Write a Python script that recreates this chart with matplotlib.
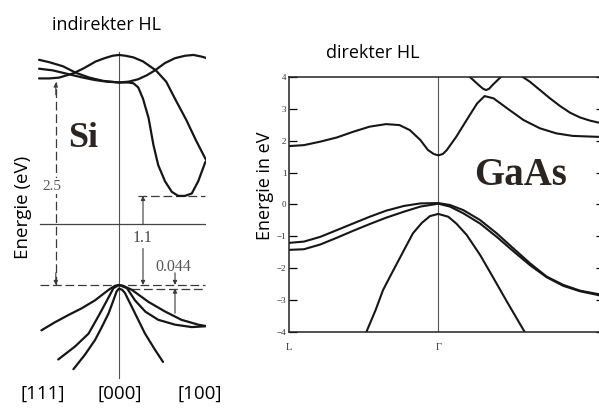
import matplotlib.pyplot as plt

W, H = 599, 408

plt.rcParams["font.family"] = ["Open Sans", "DejaVu Sans"]

# ---- Si (indirect gap): k in units of the Γ-to-zone-edge distance, E in eV
si_gap = 1.1
si_direct = 2.5
si_split = 0.044
si_ref_level = 0.75

si_cb_peak_k = [-1.0, -0.87, -0.75, -0.58, -0.45, -0.29, -0.18, -0.08, 0.0, 0.08, 0.18, 0.30, 0.46, 0.59, 0.71, 0.84, 0.96, 1.09]
si_cb_peak_e = [2.55, 2.55, 2.56, 2.61, 2.67, 2.76, 2.80, 2.83, 2.84, 2.83, 2.81, 2.76, 2.65, 2.51, 2.28, 2.04, 1.79, 1.54]

si_cb_valley_k = [-1.0, -0.83, -0.62, -0.45, -0.30, -0.15, 0.0, 0.12, 0.18, 0.24, 0.30, 0.37, 0.43, 0.49, 0.575, 0.66, 0.74, 0.825, 0.91, 0.99, 1.05, 1.08]
si_cb_valley_e = [2.67, 2.65, 2.60, 2.56, 2.53, 2.51, 2.50, 2.50, 2.49, 2.44, 2.30, 2.06, 1.73, 1.48, 1.28, 1.15, 1.10, 1.10, 1.13, 1.28, 1.44, 1.52]

si_cb_wave_k = [-1.0, -0.87, -0.70, -0.54, -0.37, -0.20, 0.0, 0.12, 0.24, 0.35, 0.45, 0.575, 0.70, 0.825, 0.93, 1.03, 1.10]
si_cb_wave_e = [2.78, 2.75, 2.70, 2.62, 2.56, 2.52, 2.50, 2.51, 2.54, 2.59, 2.65, 2.74, 2.80, 2.83, 2.84, 2.82, 2.80]

si_vb_heavy_k = [-0.97, -0.80, -0.63, -0.47, -0.30, -0.13, -0.05, 0.0, 0.05, 0.16, 0.37, 0.58, 0.78, 0.99, 1.10]
si_vb_heavy_e = [-0.56, -0.46, -0.37, -0.29, -0.19, -0.06, -0.01, 0.0, -0.01, -0.06, -0.21, -0.33, -0.43, -0.49, -0.51]

si_vb_light_k = [-0.76, -0.55, -0.38, -0.26, -0.15, -0.07, 0.0, 0.10, 0.20, 0.33, 0.49, 0.70, 0.91, 1.08]
si_vb_light_e = [-0.92, -0.76, -0.60, -0.39, -0.19, -0.04, 0.0, -0.04, -0.19, -0.33, -0.43, -0.49, -0.52, -0.51]

si_vb_so_k = [-0.57, -0.425, -0.30, -0.22, -0.13, -0.07, -0.03, 0.0, 0.04, 0.075, 0.14, 0.20, 0.325, 0.45, 0.55]
si_vb_so_e = [-1.04, -0.86, -0.68, -0.53, -0.35, -0.19, -0.08, -0.044, -0.06, -0.10, -0.23, -0.35, -0.60, -0.80, -0.95]

si_k_labels = ["[111]", "[000]", "[100]"]

# ---- GaAs (direct gap): L at k=-1, Γ at k=0
gaas_cb1_k = [-1.0, -0.90, -0.79, -0.68, -0.57, -0.46, -0.35, -0.26, -0.19, -0.12, -0.07, -0.03, 0.0, 0.03, 0.056, 0.12, 0.19, 0.26, 0.31, 0.37, 0.46, 0.57, 0.68, 0.79, 0.90, 1.07, 1.09]
gaas_cb1_e = [1.83, 1.86, 1.97, 2.10, 2.28, 2.44, 2.52, 2.49, 2.33, 2.02, 1.71, 1.58, 1.54, 1.58, 1.70, 2.12, 2.65, 3.17, 3.40, 3.33, 3.02, 2.65, 2.39, 2.23, 2.15, 2.12, 2.12]

gaas_cb2_k = [0.20, 0.27, 0.30, 0.32, 0.34, 0.37, 0.43]
gaas_cb2_e = [4.05, 3.75, 3.63, 3.59, 3.63, 3.78, 4.05]

gaas_cb3_k = [0.55, 0.614, 0.681, 0.748, 0.815, 0.882, 0.949, 1.016, 1.09]
gaas_cb3_e = [4.05, 3.85, 3.59, 3.33, 3.09, 2.88, 2.73, 2.63, 2.55]

gaas_vb1_k = [-1.0, -0.90, -0.79, -0.68, -0.57, -0.46, -0.35, -0.23, -0.12, 0.0, 0.078, 0.167, 0.279, 0.391, 0.502, 0.614, 0.726, 0.837, 0.949, 1.072, 1.09]
gaas_vb1_e = [-1.21, -1.17, -1.02, -0.81, -0.60, -0.39, -0.20, -0.05, 0.03, 0.04, -0.02, -0.18, -0.49, -0.91, -1.38, -1.85, -2.27, -2.53, -2.71, -2.82, -2.83]

gaas_vb2_k = [-1.0, -0.90, -0.79, -0.68, -0.57, -0.46, -0.35, -0.23, -0.12, 0.0, 0.078, 0.167, 0.279, 0.391, 0.502, 0.614, 0.726, 0.837, 0.949, 1.072, 1.09]
gaas_vb2_e = [-1.43, -1.41, -1.26, -1.05, -0.83, -0.62, -0.42, -0.23, -0.07, 0.02, -0.07, -0.28, -0.60, -1.02, -1.47, -1.91, -2.29, -2.56, -2.73, -2.85, -2.86]

gaas_so_k = [-0.49, -0.42, -0.37, -0.30, -0.23, -0.17, -0.11, -0.056, 0.0, 0.067, 0.12, 0.19, 0.28, 0.37, 0.46, 0.59]
gaas_so_e = [-4.1, -3.32, -2.69, -2.06, -1.44, -0.91, -0.58, -0.37, -0.30, -0.39, -0.60, -0.96, -1.59, -2.32, -3.06, -4.1]

gaas_yticks = [-4, -3, -2, -1, 0, 1, 2, 3, 4]
gaas_k_ticks = [-1.0, 0.0]
gaas_k_labels = ["L", "Γ"]

BAND = "#161616"
GUIDE = "#3a3a3a"


def px_axes(fig, x0, y0, x1, y1):
    return fig.add_axes([x0 / W, 1 - y1 / H, (x1 - x0) / W, (y1 - y0) / H])


def px_text(fig, x, y, s, **kw):
    fig.text(x / W, 1 - y / H, s, ha="center", va="center", **kw)


def arrow(ax, x, y_from, y_to, style="-|>", ls="-"):
    ax.annotate("", xy=(x, y_to), xytext=(x, y_from),
                arrowprops=dict(arrowstyle=style, lw=0.8, color=GUIDE, linestyle=ls,
                                mutation_scale=6, shrinkA=0, shrinkB=0))


fig = plt.figure(figsize=(W / 100, H / 100), dpi=100)

# ---- Si panel
ax = px_axes(fig, 38, 50, 206, 382)
ax.set_xlim(-1.0125, 1.0875)
ax.set_ylim(-1.198, 2.901)
ax.axis("off")

ax.plot([0, 0], [-1.15, 2.88], color="#555555", lw=0.8)
ax.plot([-0.99, 1.08], [si_ref_level, si_ref_level], color="#444444", lw=0.9)
dash = dict(color=GUIDE, lw=0.9, ls=(0, (7, 3)))
ax.plot([-0.99, 1.08], [0, 0], **dash)
ax.plot([0.24, 1.08], [si_gap, si_gap], **dash)
ax.plot([0.15, 1.09], [-si_split, -si_split], **dash)

for k, e in [(si_cb_peak_k, si_cb_peak_e), (si_cb_valley_k, si_cb_valley_e),
             (si_cb_wave_k, si_cb_wave_e), (si_vb_heavy_k, si_vb_heavy_e),
             (si_vb_light_k, si_vb_light_e), (si_vb_so_k, si_vb_so_e)]:
    ax.plot(k, e, color=BAND, lw=1.6, solid_joinstyle="round", solid_capstyle="round")

# 2.5 eV direct transition
ax.plot([-0.79, -0.79], [0, si_direct], **dash)
arrow(ax, -0.79, si_direct - 0.15, si_direct)
arrow(ax, -0.79, 0.15, 0)
ax.text(-0.84, 1.22, f"{si_direct}", family="Liberation Serif", fontsize=11, color="#555555",
        ha="center", va="center", bbox=dict(fc="white", ec="none", pad=1))

# 1.1 eV indirect gap
arrow(ax, 0.30, si_ref_level, si_gap)
arrow(ax, 0.30, 0.45, 0)
ax.text(0.29, 0.58, f"{si_gap}", family="Liberation Serif", fontsize=11.5, color="#444444",
        ha="center", va="center")

# 0.044 eV split-off
arrow(ax, 0.70, 0.15, 0)
arrow(ax, 0.70, -0.35, -si_split)
ax.text(0.675, 0.22, f"{si_split}", family="Liberation Serif", fontsize=11.5, color="#555555",
        ha="center", va="center")

ax.text(-0.45, 1.81, "Si", family="Liberation Serif", fontweight="bold", fontsize=26,
        color="#2a2520", ha="center", va="center")

px_text(fig, 107, 25, "indirekter HL", fontsize=13)
px_text(fig, 23, 207, "Energie (eV)", fontsize=13.5, rotation=90)
for x, lab in zip([43, 120, 200], si_k_labels):
    px_text(fig, x, 394, lab, fontsize=13.5)

# ---- GaAs panel
bx = px_axes(fig, 289, 77, 600, 331.7)
bx.set_xlim(-1.0, 1.083)
bx.set_ylim(-4, 4)
for s in bx.spines.values():
    s.set_linewidth(1.1)
    s.set_color("#222222")
bx.axvline(0, color="#555555", lw=0.8)

for k, e in [(gaas_cb1_k, gaas_cb1_e), (gaas_cb2_k, gaas_cb2_e), (gaas_cb3_k, gaas_cb3_e),
             (gaas_vb1_k, gaas_vb1_e), (gaas_vb2_k, gaas_vb2_e), (gaas_so_k, gaas_so_e)]:
    bx.plot(k, e, color=BAND, lw=1.5, solid_joinstyle="round")

bx.set_yticks(gaas_yticks, [str(t).replace("-", "\u2212") for t in gaas_yticks])
bx.tick_params(axis="y", direction="in", length=5.5, width=0.9, left=True, right=True,
               pad=2, labelsize=6.5, labelcolor="#333333")
for t in bx.yaxis.get_major_ticks():
    t.tick2line.set_markersize(3)
bx.set_xticks(gaas_k_ticks, gaas_k_labels)
bx.tick_params(axis="x", length=0, pad=8, labelsize=7.5, labelcolor="#333333")
for lab in bx.get_xticklabels() + bx.get_yticklabels():
    lab.set_family("Liberation Serif")

bx.text(0.55, 0.92, "GaAs", family="Liberation Serif", fontweight="bold", fontsize=28,
        color="#2a2520", ha="center", va="center")

px_text(fig, 373, 53, "direkter HL", fontsize=13)
px_text(fig, 265, 186, "Energie in eV", fontsize=13, rotation=90)

fig.savefig("out.png", dpi=100)
